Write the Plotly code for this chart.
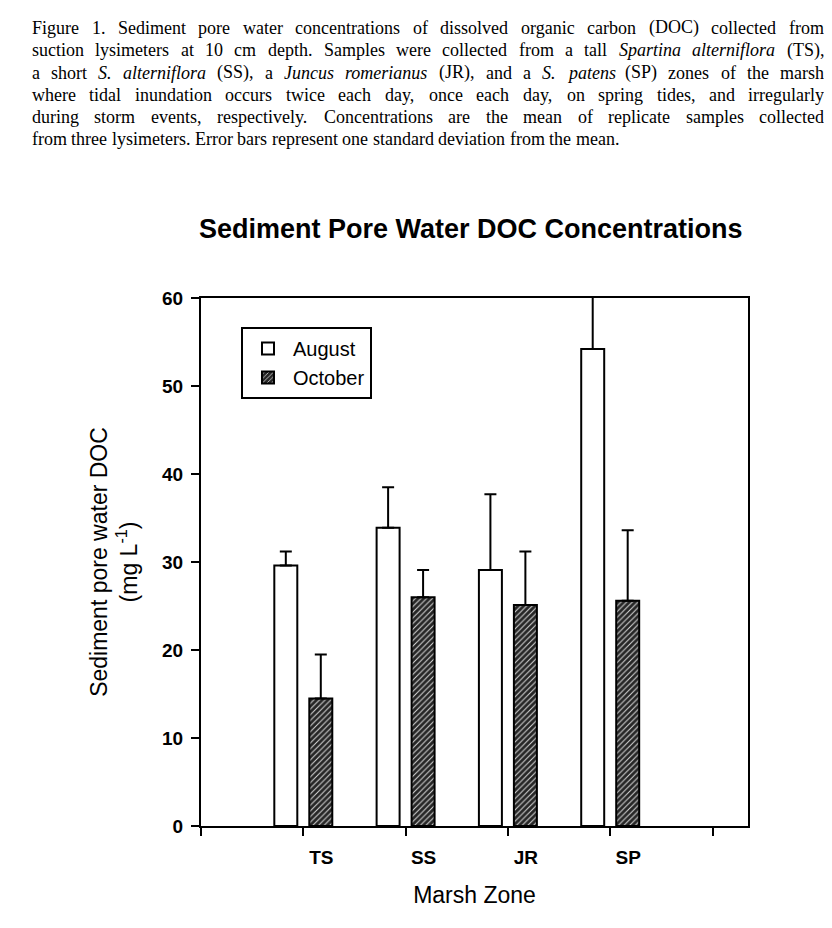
import plotly.graph_objects as go

zones = ["TS", "SS", "JR", "SP"]
august = [29.6, 33.9, 29.1, 54.2]
august_sd = [1.6, 4.6, 8.6, 8.0]
october = [14.5, 26.0, 25.1, 25.6]
october_sd = [5.0, 3.1, 6.1, 8.0]
y_ticks = [0, 10, 20, 30, 40, 50, 60]

# caption lines; words wrapped in <i> are italic
caption_lines = [
    "Figure 1. Sediment pore water concentrations of dissolved organic carbon (DOC) collected from",
    "suction lysimeters at 10 cm depth. Samples were collected from a tall <i>Spartina</i> <i>alterniflora</i> (TS),",
    "a short <i>S.</i> <i>alterniflora</i> (SS), a <i>Juncus</i> <i>romerianus</i> (JR), and a <i>S.</i> <i>patens</i> (SP) zones of the marsh",
    "where tidal inundation occurs twice each day, once each day, on spring tides, and irregularly",
    "during storm events, respectively. Concentrations are the mean of replicate samples collected",
    "from three lysimeters. Error bars represent one standard deviation from the mean.",
]

xpos = [i + 1 for i in range(len(zones))]
edge_ticks = [0, len(zones) + 1]

W, H = 824, 920
OFF = 8  # page offset of the figure in the browser
L, T = 193, 290
pw, ph = 547, 528
R, B = W - L - pw, H - T - ph


def px_x(p):  # screen pixel -> paper x
    return (p - OFF - L) / pw


def px_y(p):  # screen pixel -> paper y
    return (T + ph - (p - OFF)) / ph


# Times metrics (per 1000 em) to justify caption lines
ROMAN = dict(zip(
    " ()-,.:0123456789ABCDEFGHIJKLMNOPQRSTUVWXYZabcdefghijklmnopqrstuvwxyz",
    [250, 333, 333, 333, 250, 250, 278] + [500] * 10 +
    [722, 667, 667, 722, 611, 556, 722, 722, 333, 389, 722, 611, 889, 722, 722, 556,
     722, 667, 556, 611, 722, 722, 944, 722, 722, 611] +
    [444, 500, 444, 500, 444, 333, 500, 500, 278, 278, 500, 278, 778, 500, 500, 500,
     500, 333, 389, 278, 500, 500, 722, 500, 500, 444]))
ITALIC = dict(ROMAN)
ITALIC.update({"S": 500, "J": 444, "a": 500, "f": 278, "k": 444, "m": 722, "r": 389,
               "v": 444, "w": 667, "y": 444, "z": 389})

CAP_SIZE = 18


def word_width(w):
    it = w.startswith("<i>")
    plain = w.replace("<i>", "").replace("</i>", "")
    tab = ITALIC if it else ROMAN
    return sum(tab.get(c, 500) for c in plain) / 1000.0 * CAP_SIZE


fig = go.Figure()
fig.add_trace(go.Bar(
    x=xpos, y=august, name="August",
    marker=dict(color="white", line=dict(color="black", width=2)),
    error_y=dict(type="data", array=august_sd, arrayminus=[0] * 4, symmetric=False,
                 color="black", thickness=2, width=6),
))
fig.add_trace(go.Bar(
    x=xpos, y=october, name="October",
    marker=dict(color="#262626", line=dict(color="black", width=2),
                pattern=dict(shape="/", fgcolor="#d8d8d8", bgcolor="#262626",
                             size=4, solidity=0.25, fillmode="replace")),
    error_y=dict(type="data", array=october_sd, arrayminus=[0] * 4, symmetric=False,
                 color="black", thickness=2, width=6),
))

fig.update_layout(
    width=W, height=H,
    margin=dict(l=L, r=R, t=T, b=B),
    paper_bgcolor="white", plot_bgcolor="white",
    barmode="group", bargap=0.316, bargroupgap=0.343,
    font=dict(family="Liberation Sans, Arial", color="black"),
    showlegend=True,
    legend=dict(x=px_x(241), y=px_y(327), xanchor="left", yanchor="top",
                bordercolor="black", borderwidth=2, bgcolor="white",
                font=dict(size=20, family="Liberation Sans, Arial"),
                itemwidth=40, tracegroupgap=2),
)

fig.update_xaxes(
    range=[0, pw / 102.3], tickmode="array", tickvals=xpos,
    ticktext=zones, ticks="outside", ticklen=8, tickwidth=2,
    tickcolor="black", showline=True, linecolor="black", linewidth=2, mirror=True,
    showgrid=False, zeroline=False, ticklabelshift=18, ticklabelstandoff=5,
    minor=dict(tickmode="array", tickvals=edge_ticks, ticks="outside", ticklen=8,
               tickwidth=2, tickcolor="black", showgrid=False),
    tickfont=dict(size=19, family="Liberation Sans, Arial", weight="bold"),
    title=dict(text="Marsh Zone", font=dict(size=23, family="Liberation Sans, Arial"), standoff=20),
)
fig.update_yaxes(
    range=[0, 60], tickmode="array", tickvals=y_ticks, ticks="outside", ticklen=8,
    tickwidth=2, tickcolor="black", showline=True, linecolor="black", linewidth=2,
    mirror=True, showgrid=False, zeroline=False, ticklabelstandoff=4,
    tickfont=dict(size=19, family="Liberation Sans, Arial", weight="bold"),
    title=dict(text="Sediment pore water DOC<br>(mg L<sup>-1</sup>)",
               font=dict(size=23, family="Liberation Sans, Arial"), standoff=18),
)

fig.add_annotation(
    text="<b>Sediment Pore Water DOC Concentrations</b>",
    xref="paper", yref="paper", x=px_x(471), y=px_y(229),
    xanchor="center", yanchor="middle", showarrow=False,
    font=dict(size=27, family="Liberation Sans, Arial", color="black"),
)

x_left, x_right = 30, 822
for i, line in enumerate(caption_lines):
    yy = 28 + 22.3 * i
    words = line.split(" ")
    widths = [word_width(w) for w in words]
    if i < len(caption_lines) - 1:
        gap = (x_right - x_left - sum(widths)) / (len(words) - 1)
    else:
        gap = 0.25 * CAP_SIZE
    x = x_left
    for w, wd in zip(words, widths):
        fig.add_annotation(
            text=w, xref="paper", yref="paper", x=px_x(x), y=px_y(yy),
            xanchor="left", yanchor="middle", showarrow=False, align="left",
            font=dict(size=CAP_SIZE, family="Liberation Serif, Times New Roman", color="black"),
        )
        x += wd + gap

fig.write_html("out.html")
